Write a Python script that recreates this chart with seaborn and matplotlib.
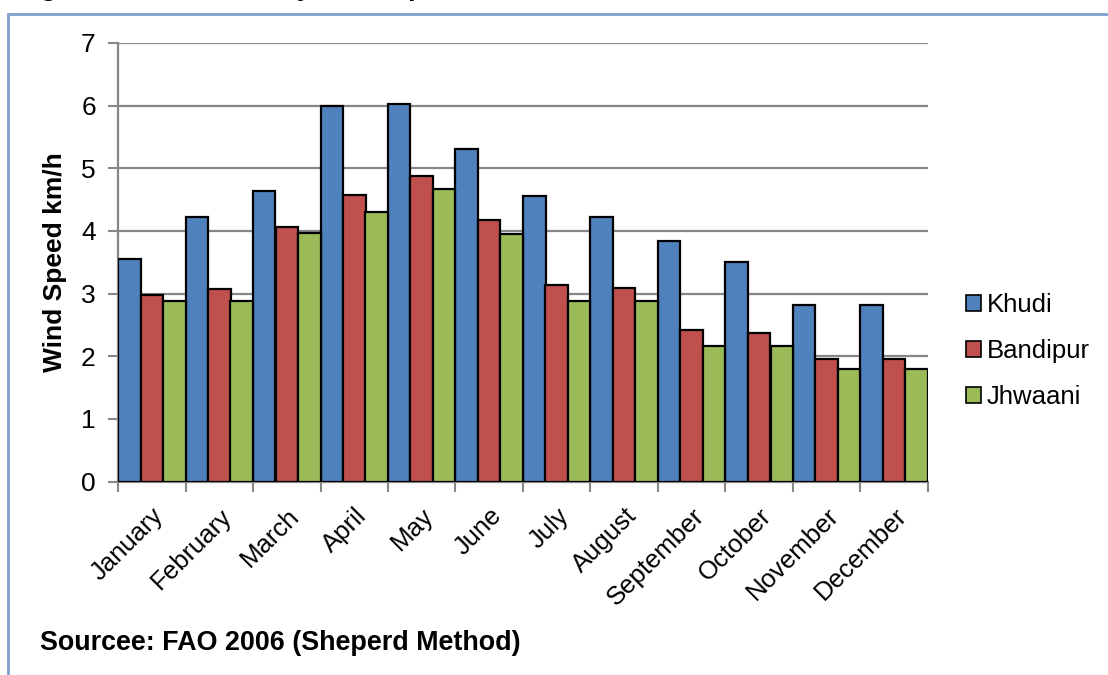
import numpy as np
import pandas as pd
import matplotlib
matplotlib.use("Agg")
import matplotlib.pyplot as plt
from matplotlib.patches import Rectangle
import seaborn as sns

# monthly wind speed (km/h)
months = ['January', 'February', 'March', 'April', 'May', 'June',
          'July', 'August', 'September', 'October', 'November', 'December']
khudi = [3.55, 4.23, 4.63, 6.00, 6.03, 5.30, 4.55, 4.23, 3.84, 3.51, 2.81, 2.81]
bandipur = [2.98, 3.08, 4.06, 4.58, 4.88, 4.17, 3.14, 3.09, 2.42, 2.37, 1.96, 1.96]
jhwaani = [2.88, 2.88, 3.96, 4.31, 4.67, 3.95, 2.88, 2.88, 2.16, 2.16, 1.80, 1.80]
stations = ['Khudi', 'Bandipur', 'Jhwaani']
colors = ['#4F81BD', '#C0504D', '#9BBB59']

df = pd.DataFrame({'Month': months, 'Khudi': khudi,
                   'Bandipur': bandipur, 'Jhwaani': jhwaani})
df = df.melt(id_vars='Month', var_name='Station', value_name='Speed')

sns.set_theme(style='white')
plt.rcParams['font.family'] = ['Liberation Sans', 'DejaVu Sans']
plt.rcParams['text.color'] = 'black'
plt.rcParams['axes.labelcolor'] = 'black'
plt.rcParams['xtick.color'] = 'black'
plt.rcParams['ytick.color'] = 'black'

fig = plt.figure(figsize=(11.08, 6.75), dpi=100)
ax = fig.add_axes([118 / 1108, 193.5 / 675, 810 / 1108, 438.5 / 675])

sns.barplot(data=df, x='Month', y='Speed', hue='Station', hue_order=stations,
            palette=colors, width=1.0, gap=0, ax=ax,
            edgecolor='black', linewidth=1.6, saturation=1, zorder=3)

ax.set_ylim(0, 7)
ax.set_xlim(-0.5, 11.5)
ax.set_yticks(range(8))
ax.tick_params(axis='y', labelsize=19, length=7, width=1.5, color='#878787',
               direction='out', left=True, pad=9, labelcolor='black')
ax.set_xticks(range(12))
ax.set_xticklabels(months, rotation=45, ha='right', rotation_mode='anchor',
                   fontsize=18.5)
ax.tick_params(axis='x', length=0, pad=16)
ax.set_xticks(np.arange(-0.5, 12, 1), minor=True)
ax.tick_params(axis='x', which='minor', length=7, width=1.5, color='#878787',
               bottom=True)
ax.yaxis.grid(True, color='#878787', linewidth=1.6, zorder=0)
ax.set_axisbelow(True)
for s in ['top', 'right']:
    ax.spines[s].set_visible(False)
for s in ['left', 'bottom']:
    ax.spines[s].set_color('#878787')
    ax.spines[s].set_linewidth(1.6)
ax.set_xlabel('')
ax.set_ylabel('Wind Speed km/h', fontsize=19, fontweight='bold', labelpad=10)

ax.legend_.remove()
handles = [Rectangle((0, 0), 1, 1, facecolor=c, edgecolor='black', linewidth=1.2)
           for c in colors]
fig.legend(handles, stations, loc='center left',
           bbox_to_anchor=(966 / 1108, 1 - 351 / 675), frameon=False,
           fontsize=18.5, handlelength=0.6, handleheight=0.6,
           handletextpad=0.2, labelspacing=0.85, borderpad=0,
           borderaxespad=0)

# chart-area border (only top and left edges visible in the crop)
fig.patches.append(Rectangle((8 / 1108, -0.1), 1.2, 1 - 14 / 675 + 0.1,
                             transform=fig.transFigure, fill=False,
                             edgecolor='#7FA1CF', linewidth=2, zorder=0))

# caption above the chart, cut off by the crop: only descenders show
fig.text(17 / 1108, 1 + 4 / 675, 'Figure 4: Mean Monthly Wind Speed',
         fontsize=19, fontweight='bold', va='baseline', ha='left')

fig.text(40 / 1108, 1 - 643 / 675, 'Sourcee: FAO 2006 (Sheperd Method)',
         fontsize=19.4, fontweight='bold', va='center', ha='left')

fig.savefig('out.png', dpi=100)
